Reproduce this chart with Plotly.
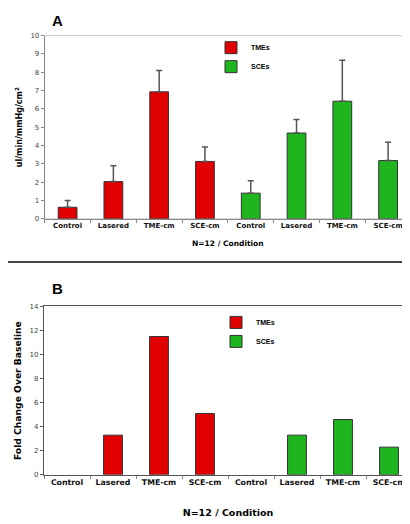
import plotly.graph_objects as go

# ---------------- data ----------------
categories = ["Control", "Lasered", "TME-cm", "SCE-cm", "Control", "Lasered", "TME-cm", "SCE-cm"]
tme_pos = [0, 1, 2, 3]
sce_pos = [4, 5, 6, 7]

# Panel A: ul/min/mmHg/cm2
a_tme_vals = [0.63, 2.03, 6.93, 3.13]
a_tme_err = [0.37, 0.87, 1.17, 0.79]
a_sce_vals = [1.40, 4.68, 6.42, 3.18]
a_sce_err = [0.68, 0.74, 2.23, 1.00]

# Panel B: fold change over baseline (control = baseline, no bar drawn)
b_tme_vals = [None, 3.3, 11.5, 5.1]
b_sce_vals = [None, 3.3, 4.6, 2.3]

a_yticks = list(range(0, 11, 1))
b_yticks = list(range(0, 15, 2))

RED = "#E00000"
GREEN = "#1FB51F"
W, H = 410, 524
FONT = "DejaVu Sans"


def px_x(v):
    return v / W


def px_y(v):
    return 1 - v / H


fig = go.Figure()

bar_common = dict(width=0.41, marker_line=dict(color="#333333", width=1))
err_common = dict(type="data", symmetric=False, color="#555555", thickness=1.5, width=3)

fig.add_trace(go.Bar(x=tme_pos, y=a_tme_vals, name="TMEs", marker_color=RED,
                     error_y=dict(array=a_tme_err, arrayminus=[0] * 4, **err_common),
                     xaxis="x", yaxis="y", legend="legend", **bar_common))
fig.add_trace(go.Bar(x=sce_pos, y=a_sce_vals, name="SCEs", marker_color=GREEN,
                     error_y=dict(array=a_sce_err, arrayminus=[0] * 4, **err_common),
                     xaxis="x", yaxis="y", legend="legend", **bar_common))
fig.add_trace(go.Bar(x=tme_pos, y=b_tme_vals, name="TMEs", marker_color=RED,
                     xaxis="x2", yaxis="y2", legend="legend2", **bar_common))
fig.add_trace(go.Bar(x=sce_pos, y=b_sce_vals, name="SCEs", marker_color=GREEN,
                     xaxis="x2", yaxis="y2", legend="legend2", **bar_common))

xcommon = dict(
    range=[-0.5, 7.5], tickmode="array", tickvals=list(range(8)), ticktext=categories,
    ticks="", showgrid=False, zeroline=False, showline=True,
    minor=dict(tickmode="array", tickvals=[i + 0.5 for i in range(-1, 8)], ticks="outside",
               ticklen=3, tickcolor="#888888", showgrid=False),
)

fig.update_layout(
    width=W, height=H,
    margin=dict(l=0, r=0, t=0, b=0),
    paper_bgcolor="white", plot_bgcolor="white",
    showlegend=True,
    font=dict(family=FONT, color="#000000"),
    xaxis=dict(domain=[px_x(36.7), px_x(403)], anchor="y", linecolor="#888888", linewidth=1,
               tickfont=dict(size=7, family=FONT, weight="bold", color="#111111"),
               title=dict(text="N=12 / Condition", font=dict(size=7.5, family=FONT, weight="bold"), standoff=11),
               **xcommon),
    yaxis=dict(domain=[px_y(210), px_y(24)], anchor="x", range=[0, 10], tickvals=a_yticks,
               showgrid=False, zeroline=False, showline=True, linecolor="#888888", linewidth=1,
               ticks="outside", ticklen=3, tickcolor="#888888",
               tickfont=dict(size=7, color="#444444", family=FONT),
               title=dict(text="ul/min/mmHg/cm<sup>2</sup>", font=dict(size=8, family=FONT, weight="bold"), standoff=6)),
    xaxis2=dict(domain=[px_x(36), px_x(404)], anchor="y2", linecolor="#555555", linewidth=1.2,
                mirror=True,
                tickfont=dict(size=7.8, family=FONT, weight="bold", color="#111111"),
                title=dict(text="N=12 / Condition", font=dict(size=9.5, family=FONT, weight="bold"), standoff=23),
                **xcommon),
    yaxis2=dict(domain=[px_y(470), px_y(299)], anchor="x2", range=[0, 14], tickvals=b_yticks,
                showgrid=False, zeroline=False, showline=True, linecolor="#555555", linewidth=1.2,
                mirror=True, ticks="outside", ticklen=3, tickcolor="#555555",
                tickfont=dict(size=7, color="#444444", family=FONT),
                title=dict(text="Fold Change Over Baseline", font=dict(size=9.2, family=FONT, weight="bold"), standoff=6)),
    legend=dict(x=px_x(203), y=px_y(21.5), xanchor="left", yanchor="top",
                bgcolor="rgba(0,0,0,0)", font=dict(size=7, family="Liberation Sans", weight="bold"),
                tracegroupgap=0, itemwidth=30),
    legend2=dict(x=px_x(208), y=px_y(300.5), xanchor="left", yanchor="top",
                 bgcolor="rgba(0,0,0,0)", font=dict(size=7, family="Liberation Sans", weight="bold"),
                 tracegroupgap=0, itemwidth=30),
    barmode="overlay",
    shapes=[
        dict(type="rect", xref="x domain", yref="y domain", x0=0, x1=1, y0=0, y1=1,
             line=dict(color="#cccccc", width=1), layer="below"),
        dict(type="line", xref="paper", yref="paper", x0=0, x1=1, y0=px_y(254), y1=px_y(254),
             line=dict(color="#444444", width=2)),
    ],
    annotations=[
        dict(text="<b>A</b>", xref="paper", yref="paper", x=px_x(49), y=px_y(9),
             showarrow=False, font=dict(size=15, family="Liberation Sans"), xanchor="center", yanchor="middle"),
        dict(text="<b>B</b>", xref="paper", yref="paper", x=px_x(49), y=px_y(281),
             showarrow=False, font=dict(size=15, family="Liberation Sans"), xanchor="center", yanchor="middle"),
    ],
)

fig.write_html("out.html")
